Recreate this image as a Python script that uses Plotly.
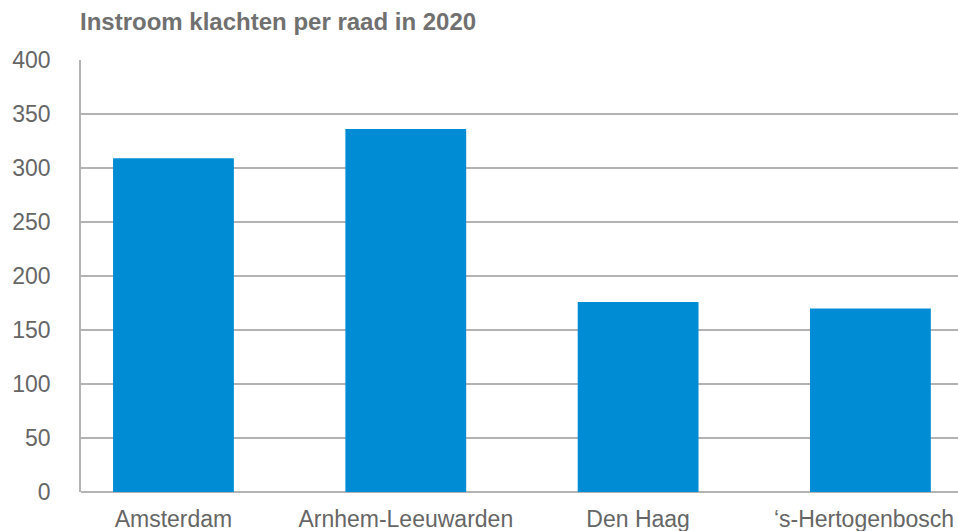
import plotly.graph_objects as go

# Instroom klachten per raad (2020)
raden = ["Amsterdam", "Arnhem-Leeuwarden", "Den Haag", "\u2018s-Hertogenbosch\u00a0\u00a0"]
instroom = [309, 336, 176, 170]
y_ticks = [0, 50, 100, 150, 200, 250, 300, 350, 400]

W, H = 958, 531

fig = go.Figure()

fig.add_trace(go.Bar(
    x=list(range(len(raden))),
    y=instroom,
    width=0.52,
    marker=dict(color="#008cd5", line=dict(width=0)),
    hoverinfo="y",
))

fig.update_layout(
    width=W,
    height=H,
    margin=dict(l=81, r=0, t=60, b=39),
    paper_bgcolor="white",
    plot_bgcolor="white",
    showlegend=False,
    font=dict(family="Liberation Sans, Arial, sans-serif", color="#666666", size=23),
    title=dict(
        text="<b>Instroom klachten per raad in 2020</b>",
        font=dict(family="Liberation Sans, Arial, sans-serif", size=24, color="#707070"),
        x=80 / W, xref="container", xanchor="left",
        y=1 - 22 / H, yref="container", yanchor="middle",
        pad=dict(l=0, r=0, t=0, b=0),
    ),
)

fig.update_xaxes(
    range=[-0.398, 3.377],
    tickvals=list(range(len(raden))),
    ticktext=raden,
    showgrid=False,
    zeroline=False,
    showline=False,
    ticks="",
    automargin=False,
    ticklabeloverflow="allow",
    ticklabelstandoff=11,
    tickfont=dict(size=23, color="#666666"),
)

fig.update_yaxes(
    range=[0, 400],
    tickvals=y_ticks,
    showgrid=True,
    gridcolor="#b3b3b3",
    gridwidth=1.5,
    zeroline=True,
    zerolinecolor="#b3b3b3",
    zerolinewidth=1.5,
    showline=True,
    linecolor="#b3b3b3",
    linewidth=1.5,
    ticks="",
    automargin=False,
    ticklabelstandoff=24,
    tickfont=dict(size=23, color="#666666"),
)

# drop the default page margin so the figure fills the window exactly
fig.write_html(
    "out.html",
    config={"displayModeBar": False},
    post_script="document.body.style.margin='0';",
)
